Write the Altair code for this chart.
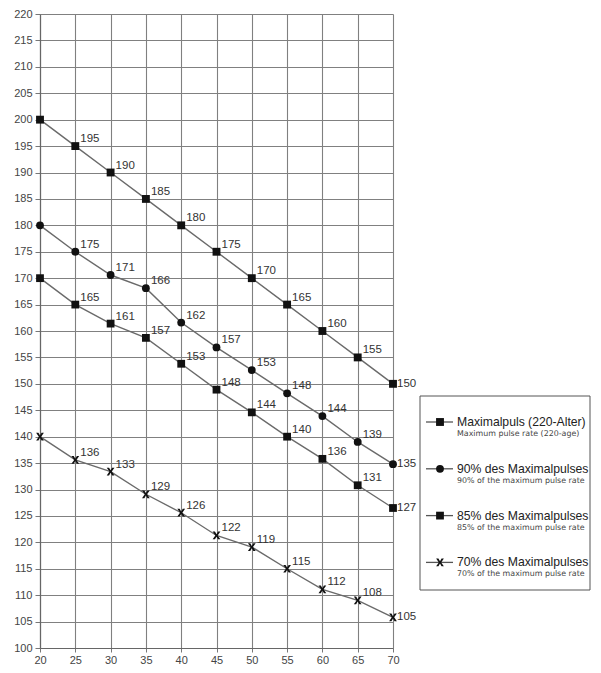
import altair as alt
import pandas as pd

# ---- data ----
ages = [20, 25, 30, 35, 40, 45, 50, 55, 60, 65, 70]

series_names = [
    "Maximalpuls (220-Alter)",
    "90% des Maximalpulses",
    "85% des Maximalpulses",
    "70% des Maximalpulses",
]
series_subtitles = [
    "Maximum pulse rate (220-age)",
    "90% of the maximum pulse rate",
    "85% of the maximum pulse rate",
    "70% of the maximum pulse rate",
]

# plotted positions
max_vals = [200, 195, 190, 185, 180, 175, 170, 165, 160, 155, 150]
p90_vals = [180, 175, 170.6, 168.1, 161.6, 156.9, 152.6, 148.2, 143.9, 139, 134.8]
p85_vals = [170, 165, 161.4, 158.7, 153.8, 148.9, 144.6, 140, 135.8, 130.8, 126.5]
p70_vals = [140, 135.6, 133.4, 129.1, 125.6, 121.3, 119.1, 115, 111.1, 109, 105.8]

# printed value labels (first point of each series is unlabelled)
max_labels = ["", "195", "190", "185", "180", "175", "170", "165", "160", "155", "150"]
p90_labels = ["", "175", "171", "166", "162", "157", "153", "148", "144", "139", "135"]
p85_labels = ["", "165", "161", "157", "153", "148", "144", "140", "136", "131", "127"]
p70_labels = ["", "136", "133", "129", "126", "122", "119", "115", "112", "108", "105"]

x_ticks = [20, 25, 30, 35, 40, 45, 50, 55, 60, 65, 70]
y_ticks = list(range(100, 221, 5))

# ---- table ----
rows = []
for name, vals, labs in zip(series_names,
                            [max_vals, p90_vals, p85_vals, p70_vals],
                            [max_labels, p90_labels, p85_labels, p70_labels]):
    for i, (a, v, l) in enumerate(zip(ages, vals, labs)):
        rows.append({"age": a, "series": name, "value": v, "label": l,
                     "last": i == len(ages) - 1})
df = pd.DataFrame(rows)

leg_df = pd.DataFrame({"idx": list(range(len(series_names))),
                       "series": series_names,
                       "sub": series_subtitles})

X_PATH = ("M-1,-1L-0.4,-1L0,-0.3L0.4,-1L1,-1L0.3,0L1,1L0.4,1L0,0.3"
          "L-0.4,1L-1,1L-0.3,0Z")

shape_scale = alt.Scale(domain=series_names,
                        range=["square", "circle", "square", X_PATH])
size_scale = alt.Scale(domain=series_names, range=[62, 60, 20, 70])

W, H = 353, 634
FONT = "Liberation Sans"

x_axis = alt.Axis(values=x_ticks, title=None, labelPadding=2, tickSize=4,
                  labelOverlap=False, grid=True)
y_axis = alt.Axis(values=y_ticks, title=None, labelPadding=3, tickSize=5,
                  labelOverlap=False, grid=True)


def xe():
    return alt.X("age:Q", scale=alt.Scale(domain=[20, 70], nice=False, zero=False),
                 axis=x_axis)


def ye():
    return alt.Y("value:Q", scale=alt.Scale(domain=[100, 220], nice=False, zero=False),
                 axis=y_axis)


base = alt.Chart(df)

lines = base.mark_line(color="#6a6a6a", strokeWidth=1.4).encode(
    x=xe(), y=ye(), detail="series:N", order="age:Q")

points = base.mark_point(filled=True, color="#111111", opacity=1).encode(
    x=xe(), y=ye(),
    shape=alt.Shape("series:N", scale=shape_scale, legend=None),
    size=alt.Size("series:N", scale=size_scale, legend=None))

mid_labels = base.transform_filter("datum.label != '' && !datum.last").mark_text(
    align="left", baseline="middle", dx=5, dy=-7, font=FONT, fontSize=11.5,
    color="#333333").encode(x=xe(), y=ye(), text="label:N")

end_labels = base.transform_filter("datum.last").mark_text(
    align="left", baseline="middle", dx=4, dy=0, font=FONT, fontSize=11.5,
    color="#333333").encode(x=xe(), y=ye(), text="label:N")

# ---- custom legend box (layout in pixels relative to plot origin) ----
LX0, LX1, LY0, LY1 = 380, 550, 382, 576
ROW0, ROWSTEP = 408, 46.8
leg = alt.Chart(leg_df).transform_calculate(
    ty=f"{ROW0} + datum.idx * {ROWSTEP}", sy=f"{ROW0 + 12} + datum.idx * {ROWSTEP}")

box = alt.Chart(leg_df).transform_filter("datum.idx == 0").mark_rect(
    fill="white", stroke="#555555", strokeWidth=1).encode(
    x=alt.value(LX0), x2=alt.value(LX1), y=alt.value(LY0), y2=alt.value(LY1))

leg_lines = leg.mark_rule(color="#555555", strokeWidth=1.3).encode(
    x=alt.value(386), x2=alt.value(413), y=alt.Y("ty:Q", scale=None))

leg_pts = leg.mark_point(filled=True, color="#111111", opacity=1).encode(
    x=alt.value(400), y=alt.Y("ty:Q", scale=None),
    shape=alt.Shape("series:N", scale=shape_scale, legend=None),
    size=alt.Size("series:N", scale=size_scale, legend=None))

leg_titles = leg.mark_text(align="left", baseline="middle", font=FONT,
                           fontSize=12.2, color="#222222").encode(
    x=alt.value(417), y=alt.Y("ty:Q", scale=None), text="series:N")

leg_subs = leg.mark_text(align="left", baseline="middle", font="DejaVu Sans",
                         fontSize=7.9, color="#444444").encode(
    x=alt.value(417), y=alt.Y("sy:Q", scale=None), text="sub:N")

chart = alt.layer(lines, points, mid_labels, end_labels,
                  box, leg_lines, leg_pts, leg_titles, leg_subs).properties(
    width=W, height=H,
    padding={"left": 5, "top": 0, "right": 0, "bottom": 0},
).configure_view(stroke=None).configure_axis(
    gridColor="#808080", gridWidth=1.1, gridOpacity=1,
    domainColor="#666666", domainWidth=1.2,
    tickColor="#777777", tickWidth=1,
    labelFont=FONT, labelFontSize=11, labelColor="#444444",
    labelFlush=False,
)

chart.save("out.html", embed_options={"renderer": "svg", "actions": False})
